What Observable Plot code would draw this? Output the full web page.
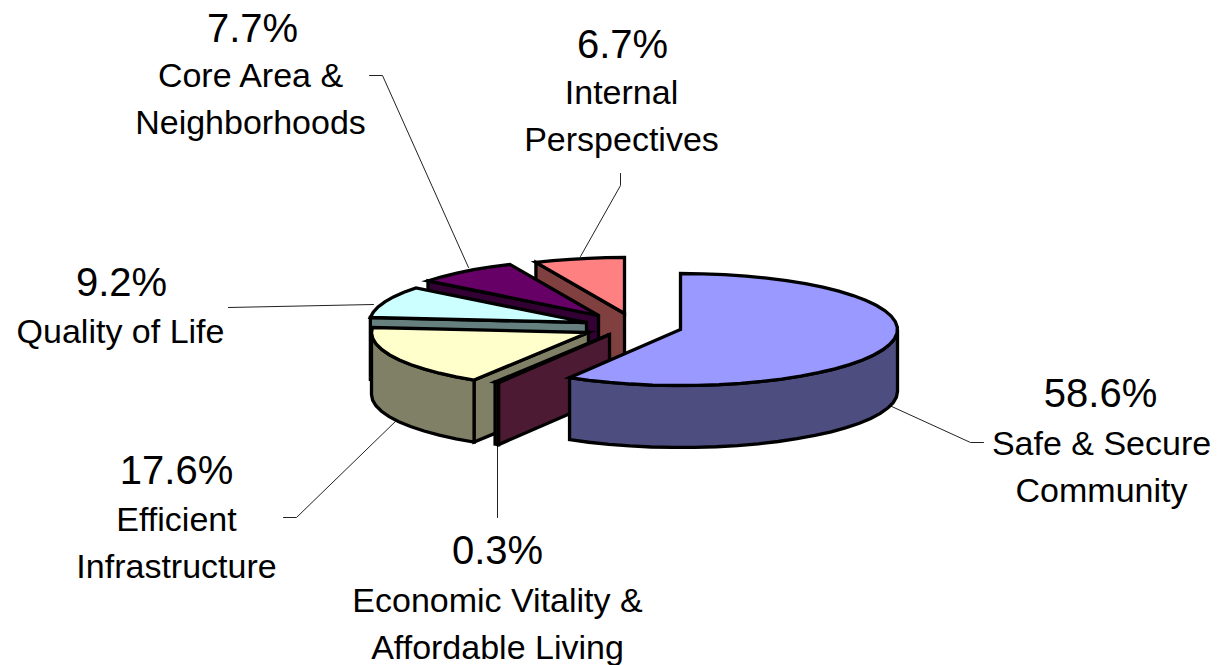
<!DOCTYPE html>
<html><head><meta charset="utf-8">
<script src="https://cdn.jsdelivr.net/npm/d3@7"></script>
<script src="https://cdn.jsdelivr.net/npm/@observablehq/plot@0.6"></script>
<style>html,body{margin:0;padding:0;background:#fff}svg{display:block;max-width:none}</style>
</head><body><div id="chart"></div>
<script>
// Data, clockwise from 12 o'clock
const categories = ["Safe & Secure\nCommunity","Economic Vitality &\nAffordable Living","Efficient\nInfrastructure","Quality of Life","Core Area &\nNeighborhoods","Internal\nPerspectives"];
const shares = [58.6,0.3,17.6,9.2,7.7,6.7];
const shareLabels = ["58.6%","0.3%","17.6%","9.2%","7.7%","6.7%"];
const topColors = ["#9999ff","#993366","#ffffcc","#ccffff","#660066","#ff8080"];
const sideColors = ["#4d4d80","#4d1a33","#808066","#668080","#330033","#804040"];

// Layout of the exploded projected pie
const rx = 217, ry = 56, depth = 62;
const apexes = [[680,329],[609,334],[588,332],[586,322],[598,315],[624,313]];
const pctAnchors = [[1100,406],[497,563],[176,483],[121,295],[252,41],[622,57]];
const nameAnchors = [[1101,501],[497,658],[176,577],[120,342],[250,133],[621,150]];
const leaders = [
  [[889,405],[970,442],[983,442]],
  [[497,443],[497,517]],
  [[398,418],[296,517],[283,517]],
  [[373,304],[228,307]],
  [[468,267],[382,75],[369,75]],
  [[580,256],[620,185],[620,173]]
];

const total = d3.sum(shares);
let run = 0;
const spans = shares.map(s => { const a0 = run / total * 360; run += s; return [a0, run / total * 360]; });
const rim = (i, deg, dz = 0) => {
  const t = deg * Math.PI / 180, [cx, cy] = apexes[i];
  return {x: cx + rx * Math.sin(t), y: cy - ry * Math.cos(t) + dz};
};
const arcDegs = (a, b) => { const n = Math.max(1, Math.ceil((b - a) / 6)); return d3.range(n + 1).map(k => a + (b - a) * k / n); };

const faces = [];
const addFace = (id, fill, pts) => pts.forEach(p => faces.push({...p, id, fill}));
[5,4,3,2,1,0].forEach(i => {
  const [a0, a1] = spans[i], [cx, cy] = apexes[i];
  // radial wall on the leading edge, only for slices in the left half
  if (a0 >= 180) {
    const e = rim(i, a0), b = rim(i, a0, depth);
    addFace(`w${i}`, sideColors[i], [{x: cx, y: cy}, e, b, {x: cx, y: cy + depth}]);
  }
  // outer wall, front half only
  const f0 = Math.max(a0, 90), f1 = Math.min(a1, 270);
  if (f1 > f0) {
    const ds = arcDegs(f0, f1);
    addFace(`a${i}`, sideColors[i], [...ds.map(d => rim(i, d)), ...ds.slice().reverse().map(d => rim(i, d, depth))]);
  }
  addFace(`t${i}`, topColors[i], [{x: cx, y: cy}, ...arcDegs(a0, a1).map(d => rim(i, d))]);
});

const leaderRows = leaders.flatMap((l, i) => l.map(([x, y]) => ({x, y, i})));
const labelFont = "Liberation Sans, Arial, sans-serif";

const plot = Plot.plot({
  width: 1221, height: 665, margin: 0,
  x: {domain: [0, 1221], range: [0, 1221], axis: null},
  y: {domain: [0, 665], range: [0, 665], axis: null},
  style: {background: "#fff"},
  marks: [
    Plot.line(leaderRows, {x: "x", y: "y", z: "i", stroke: "#222", strokeWidth: 1}),
    Plot.line(faces, {x: "x", y: "y", z: "id", fill: {value: "fill", scale: null}, stroke: "#000", strokeWidth: 3.3, strokeLinejoin: "miter", strokeMiterlimit: 6, curve: "linear-closed"}),
    Plot.text(shareLabels, {x: (d, i) => pctAnchors[i][0], y: (d, i) => pctAnchors[i][1], text: d => d, fontSize: 40, fontFamily: labelFont, fill: "#000", lineAnchor: "bottom"}),
    Plot.text(categories, {x: (d, i) => nameAnchors[i][0], y: (d, i) => nameAnchors[i][1], text: d => d, fontSize: 34, lineHeight: 1.38, fontFamily: labelFont, fill: "#000", lineAnchor: "bottom"})
  ]
});
document.getElementById("chart").append(plot);
</script></body></html>
